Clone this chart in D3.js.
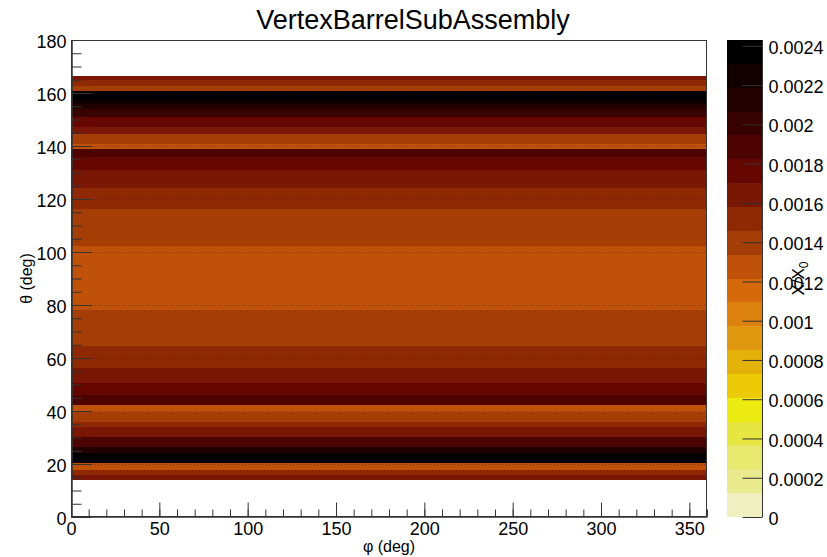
<!DOCTYPE html>
<html>
<head>
<meta charset="utf-8">
<script src="https://cdn.jsdelivr.net/npm/d3@7"></script>
<style>
  body { margin: 0; background: #fff; }
  text { font-family: "Liberation Sans", Arial, Helvetica, sans-serif; fill: #000; }
</style>
</head>
<body>
<svg id="chart" width="827" height="557"></svg>
<script>
// Material budget of the vertex barrel, X/X0 versus polar and azimuthal angle
const chartTitle = "VertexBarrelSubAssembly";
const phiRange = [0, 360];
const thetaRange = [0, 180];

// theta bin edges (deg) of the filled rows and the X/X0 of each row (flat in phi)
const thetaEdges = [14.0, 15.9, 17.8, 20.3, 24.1, 26.6, 30.3, 34.1, 36.0, 39.8, 42.3,
  46.1, 50.6, 56.3, 64.4, 78.2, 102.2, 116.3, 124.3, 131.1, 135.7, 138.7, 140.6,
  144.4, 147.0, 150.8, 153.8, 155.7, 157.0, 160.7, 162.6, 164.8, 166.3];
const rowValues = [0.00164, 0.00152, 0.00128, 0.00240, 0.00213, 0.00188, 0.00164,
  0.00152, 0.00140, 0.00128, 0.00188, 0.00176, 0.00164, 0.00152, 0.00140, 0.00128,
  0.00140, 0.00152, 0.00164, 0.00176, 0.00188, 0.00128, 0.00140, 0.00164, 0.00176,
  0.00200, 0.00213, 0.00225, 0.00243, 0.00140, 0.00152, 0.00164];

const xMajorTicks = [0, 50, 100, 150, 200, 250, 300, 350];
const yMajorTicks = [0, 20, 40, 60, 80, 100, 120, 140, 160, 180];
const zTicks = [0, 0.0002, 0.0004, 0.0006, 0.0008, 0.001, 0.0012, 0.0014, 0.0016, 0.0018, 0.002, 0.0022, 0.0024];
const zTickLabels = ["0", "0.0002", "0.0004", "0.0006", "0.0008", "0.001", "0.0012", "0.0014", "0.0016", "0.0018", "0.002", "0.0022", "0.0024"];
const zMax = 0.00243;

// 20-level palette, low to high
const palette = ["#efefc0", "#e9e98e", "#e9e86e", "#e7e640", "#ecec12", "#eccb06",
  "#e4b00a", "#e09810", "#dc800e", "#d6690c", "#bf5108", "#a53d06", "#8f2904",
  "#7a1604", "#660600", "#4d0400", "#370200", "#220101", "#120000", "#000000"];

const svg = d3.select("#chart");
const frame = { left: 71, right: 707, top: 40, bottom: 517 };
const bar = { left: 727, right: 763 };

const x = d3.scaleLinear().domain(phiRange).range([frame.left, frame.right]);
const y = d3.scaleLinear().domain(thetaRange).range([frame.bottom, frame.top]);
const z = d3.scaleLinear().domain([0, zMax]).range([frame.bottom, frame.top]);
const color = d3.scaleQuantize().domain([0, zMax]).range(palette);

// rows of the 2D histogram
const rows = rowValues.map((v, i) => ({ lo: thetaEdges[i], hi: thetaEdges[i + 1], v }));
svg.append("g").attr("shape-rendering", "crispEdges")
  .selectAll("rect").data(rows).join("rect")
  .attr("x", x(phiRange[0]))
  .attr("width", x(phiRange[1]) - x(phiRange[0]))
  .attr("y", d => Math.round(y(d.hi)))
  .attr("height", d => Math.round(y(d.lo)) - Math.round(y(d.hi)))
  .attr("fill", d => color(d.v));

// faint dotted lines at the major theta ticks
svg.append("g").selectAll("line")
  .data(yMajorTicks.filter(t => t > thetaRange[0] && t < thetaRange[1]))
  .join("line")
  .attr("x1", frame.left).attr("x2", frame.right)
  .attr("y1", d => y(d) + 0.5).attr("y2", d => y(d) + 0.5)
  .attr("stroke", "#3a0a00").attr("stroke-opacity", 0.45)
  .attr("stroke-width", 1).attr("stroke-dasharray", "1,2");

// frame
svg.append("rect")
  .attr("x", frame.left + 0.5).attr("y", frame.top + 0.5)
  .attr("width", frame.right - frame.left - 1).attr("height", frame.bottom - frame.top - 1)
  .attr("fill", "none").attr("stroke", "#333").attr("stroke-width", 1);

function styleAxis(g) {
  g.selectAll("path").attr("stroke", "#333");
  g.selectAll("line").attr("stroke", "#333");
  g.selectAll("text").style("font-size", "18px").attr("fill", "#000");
}

// x axis: major and minor ticks pointing into the frame
svg.append("g").attr("transform", `translate(0,${frame.bottom - 0.5})`)
  .call(d3.axisBottom(x).tickValues(d3.range(0, 361, 10)).tickSizeInner(-7).tickSizeOuter(0).tickFormat(""))
  .call(styleAxis);
svg.append("g").attr("transform", `translate(0,${frame.bottom - 0.5})`)
  .call(d3.axisBottom(x).tickValues(xMajorTicks).tickSizeInner(-14).tickSizeOuter(0).tickPadding(6).tickFormat(d3.format("d")))
  .call(styleAxis);

// y axis
svg.append("g").attr("transform", `translate(${frame.left + 0.5},0)`)
  .call(d3.axisLeft(y).tickValues(d3.range(0, 181, 5)).tickSizeInner(-10).tickSizeOuter(0).tickFormat(""))
  .call(styleAxis);
svg.append("g").attr("transform", `translate(${frame.left + 0.5},0)`)
  .call(d3.axisLeft(y).tickValues(yMajorTicks).tickSizeInner(-20).tickSizeOuter(0).tickPadding(5).tickFormat(d3.format("d")))
  .call(styleAxis)
  .call(g => g.selectAll("text").attr("dy", "0.42em"));

// colour bar
const levels = palette.map((c, i) => ({ c, lo: zMax * i / palette.length, hi: zMax * (i + 1) / palette.length }));
svg.append("g").attr("shape-rendering", "crispEdges")
  .selectAll("rect").data(levels).join("rect")
  .attr("x", bar.left).attr("width", bar.right - bar.left)
  .attr("y", d => Math.round(z(d.hi))).attr("height", d => Math.round(z(d.lo)) - Math.round(z(d.hi)))
  .attr("fill", d => d.c);

svg.append("g").attr("transform", `translate(${bar.right - 0.5},0)`)
  .call(d3.axisRight(z).tickValues(zTicks).tickSizeInner(-20).tickSizeOuter(0).tickPadding(6)
    .tickFormat((d, i) => zTickLabels[i]))
  .call(styleAxis)
  .call(g => g.select(".domain").attr("d", `M0,${frame.bottom}V${frame.top}`))
  .call(g => g.selectAll("text").attr("dy", "0.42em"));

// titles
svg.append("text").attr("x", 413).attr("y", 29).attr("text-anchor", "middle")
  .style("font-size", "27px").text(chartTitle);

svg.append("text").attr("x", (frame.left + frame.right) / 2).attr("y", 552)
  .attr("text-anchor", "middle").style("font-size", "16px").text("φ (deg)");

svg.append("text")
  .attr("transform", `translate(32,${(frame.top + frame.bottom) / 2}) rotate(-90)`)
  .attr("text-anchor", "middle").style("font-size", "16px").text("θ (deg)");

const zt = svg.append("text")
  .attr("transform", `translate(804,${(frame.top + frame.bottom) / 2}) rotate(-90)`)
  .attr("text-anchor", "middle").style("font-size", "17px");
zt.append("tspan").text("X/X");
zt.append("tspan").attr("dy", "0.3em").style("font-size", "12px").text("0");
</script>
</body>
</html>
